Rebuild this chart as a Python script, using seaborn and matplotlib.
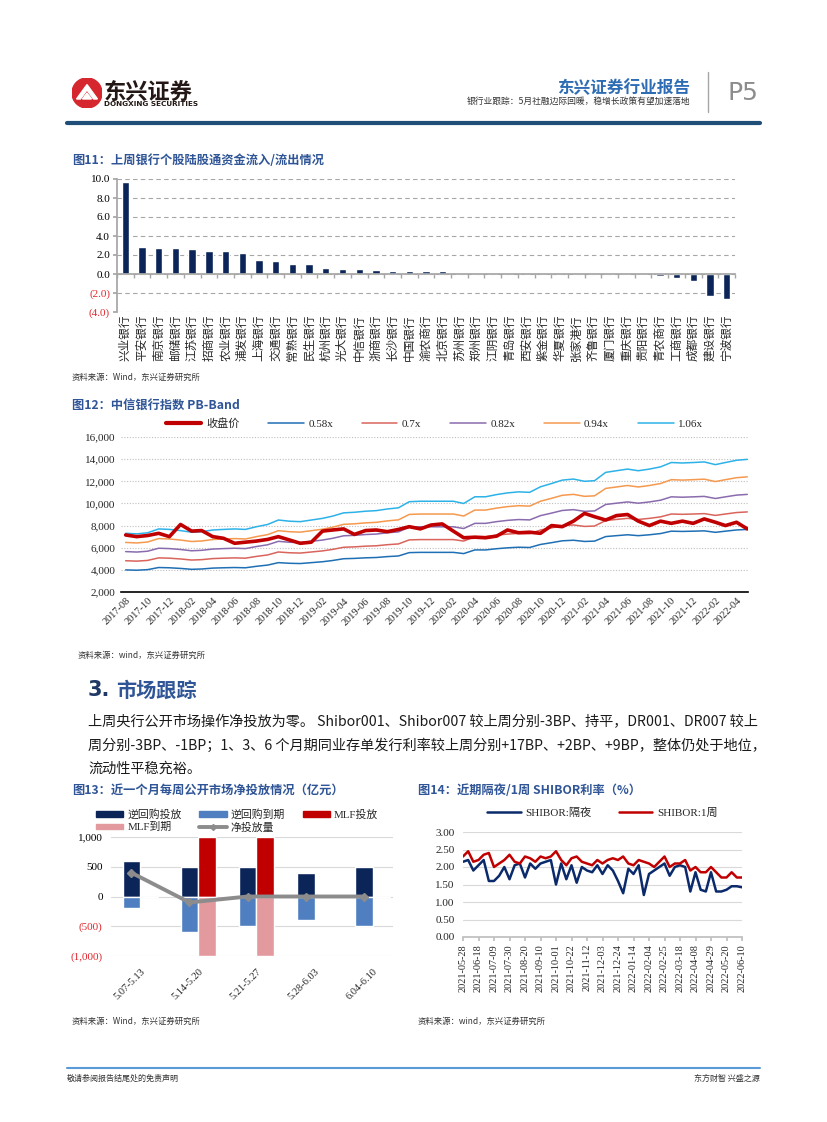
import numpy as np
import pandas as pd
import matplotlib
matplotlib.use("Agg")
import matplotlib.pyplot as plt
import matplotlib.dates as mdates
import matplotlib.ticker as mticker
from matplotlib.patches import Patch, Circle, Polygon
from matplotlib.lines import Line2D
import seaborn as sns

# ---- style ----
sns.set_theme(style="white")
plt.rcParams['font.family'] = ['Noto Sans CJK SC', 'DejaVu Sans']
plt.rcParams['axes.unicode_minus'] = False
SERIF = ['Liberation Serif', 'Noto Sans CJK SC']

W, H = 827, 1122
TITLE_BLUE = '#2F5597'

# ---- data: 图11 陆股通资金流入/流出 (亿元) ----
banks = ['兴业银行', '平安银行', '南京银行', '邮储银行', '江苏银行', '招商银行', '农业银行',
         '浦发银行', '上海银行', '交通银行', '常熟银行', '民生银行', '杭州银行', '光大银行',
         '中信银行', '浙商银行', '长沙银行', '中国银行', '渝农商行', '北京银行', '苏州银行',
         '郑州银行', '江阴银行', '青岛银行', '西安银行', '紫金银行', '华夏银行', '张家港行',
         '齐鲁银行', '厦门银行', '重庆银行', '贵阳银行', '青农商行', '工商银行', '成都银行',
         '建设银行', '宁波银行']
flows = [9.68, 2.85, 2.75, 2.75, 2.62, 2.43, 2.43, 2.18, 1.45, 1.35, 1.05, 1.05, 0.68, 0.57,
         0.57, 0.46, 0.36, 0.36, 0.35, 0.33, 0.12, 0.10, 0.10, 0.10, 0.0, 0.0, -0.03, -0.04,
         -0.04, -0.05, -0.06, -0.15, -0.17, -0.45, -0.75, -2.30, -2.62]

# ---- data: 图12 中信银行指数 PB-Band (monthly) ----
pb_months = pd.date_range('2017-08-01', periods=58, freq='MS')
close_px = [7150, 7000, 7100, 7300, 7000,
            8100, 7500, 7550, 7000, 6850, 6400, 6500, 6600, 6750, 7000, 6700, 6400,
            6500, 7500, 7600, 7700, 7200, 7550, 7600, 7450, 7650, 7900, 7700, 8050,
            8150, 7500, 6900, 6950, 6900, 7050, 7600, 7350, 7400, 7300, 8000, 7900,
            8400, 9100, 8800, 8500, 8900, 9000, 8400, 8000, 8400, 8200, 8400, 8200,
            8600, 8300, 8000, 8300, 7700]
book_value = [6890, 6840, 6930, 7260, 7220,
              7120, 6980, 7030, 7170, 7220, 7260, 7220, 7450, 7640, 8020, 7920, 7880,
              8020, 8160, 8350, 8630, 8680, 8770, 8820, 8960, 9060, 9580, 9620, 9620,
              9620, 9620, 9430, 10000, 10000, 10190, 10330, 10420, 10380, 10850, 11130, 11420,
              11510, 11320, 11370, 12080, 12220, 12360, 12220, 12360, 12550, 12920, 12880, 12920,
              12970, 12740, 12920, 13110, 13190]
pb_multiples = [0.58, 0.7, 0.82, 0.94, 1.06]
pb_names = ['0.58x', '0.7x', '0.82x', '0.94x', '1.06x']
pb_colors = ['#1F6FB4', '#D9645C', '#8A6BAE', '#F5994E', '#2DB2E8']

# ---- data: 图13 公开市场净投放 (亿元) ----
weeks = ['5.07-5.13', '5.14-5.20', '5.21-5.27', '5.28-6.03', '6.04-6.10']
repo_in = [600, 500, 500, 400, 500]
repo_out = [-200, -600, -500, -400, -500]
mlf_in = [0, 1000, 1000, 0, 0]
mlf_out = [0, -1000, -1000, 0, 0]
net_inj = [400, -100, 0, 0, 0]

# ---- data: 图14 SHIBOR (weekly, %) ----
shibor_dates = pd.date_range('2021-05-28', '2022-06-10', freq='W-FRI')
shibor_on = [2.15, 2.20, 1.90, 2.05, 2.20, 1.60, 1.60, 1.75, 2.00, 1.65, 2.05, 2.10, 1.70, 2.10,
             1.95, 2.10, 2.15, 2.20, 1.50, 2.10, 1.65, 2.05, 1.55, 2.00, 1.90, 1.85, 2.05, 1.80,
             2.05, 1.90, 1.60, 1.25, 1.95, 1.80, 2.05, 1.20, 1.80, 1.90, 2.00, 2.10, 1.75, 2.00,
             2.05, 2.00, 1.30, 1.85, 1.35, 1.30, 1.85, 1.30, 1.30, 1.35, 1.45, 1.45, 1.42]
shibor_1w = [2.30, 2.45, 2.15, 2.20, 2.35, 2.40, 2.00, 2.10, 2.20, 2.35, 2.15, 2.10, 2.30, 2.25,
             2.15, 2.30, 2.25, 2.30, 2.45, 2.20, 2.05, 2.25, 2.30, 2.15, 2.10, 2.05, 2.20, 2.10,
             2.20, 2.25, 2.20, 2.30, 2.10, 2.05, 2.20, 2.15, 2.10, 2.00, 2.15, 2.30, 2.00, 2.10,
             2.10, 2.20, 1.90, 2.00, 1.85, 1.85, 2.00, 1.85, 1.70, 1.70, 1.85, 1.70, 1.70]
shibor_ticks = pd.date_range('2021-05-28', '2022-06-10', freq='21D')


def box(x0, y0, x1, y1):
    return [x0 / W, 1 - y1 / H, (x1 - x0) / W, (y1 - y0) / H]


fig = plt.figure(figsize=(W / 100, H / 100), dpi=100)


def ftext(x, y, s, **kw):
    fig.text(x / W, 1 - y / H, s, **kw)


def neg_fmt(v, fmt):
    s = format(abs(v), fmt)
    return f'({s})' if v < 0 else s


# ================= header =================
axl = fig.add_axes(box(72, 78, 102, 108))
axl.set_xlim(0, 1)
axl.set_ylim(0, 1)
axl.set_aspect('equal')
axl.axis('off')
axl.add_patch(Circle((0.5, 0.5), 0.5, color='#D6262E'))
axl.add_patch(Polygon([[0.15, 0.3], [0.5, 0.78], [0.85, 0.3], [0.72, 0.3], [0.5, 0.6], [0.28, 0.3]],
                      color='white'))
axl.add_patch(Polygon([[0.35, 0.3], [0.5, 0.5], [0.65, 0.3]], color='white'))
ftext(104, 92, '东兴证券', fontsize=16, fontweight='bold', color='#231815', va='center')
ftext(104, 104.5, 'DONGXING SECURITIES', fontsize=5.2, fontweight='bold', color='#231815',
      va='center', family=['DejaVu Sans'])
ftext(690, 88, '东兴证券行业报告', fontsize=12, fontweight='bold', color='#2E6DB4',
      ha='right', va='center')
ftext(690, 101.5, '银行业跟踪：5月社融边际回暖，稳增长政策有望加速落地', fontsize=6.3,
      color='#333333', ha='right', va='center')
fig.add_artist(Line2D([708 / W, 708 / W], [1 - 72 / H, 1 - 112 / H], color='#A6A6A6', lw=1))
ftext(728, 93, 'P5', fontsize=18, color='#8C8C8C', va='center', family=['DejaVu Sans'])
fig.add_artist(Line2D([67 / W, 760 / W], [1 - 123 / H, 1 - 123 / H], color='#1F4E79', lw=3))

# ================= 图11 =================
ftext(72, 160, '图11：上周银行个股陆股通资金流入/流出情况', fontsize=8.8, fontweight='bold',
      color=TITLE_BLUE, va='center')
ax1 = fig.add_axes(box(117, 179, 735, 312))
sns.barplot(x=banks, y=flows, color='#0B2559', width=0.44, saturation=1, ax=ax1)
ax1.set_xlim(-0.5, len(banks) - 0.5)
ax1.set_ylim(-4, 10)
ax1.set_yticks(np.arange(-4, 11, 2))
ax1.set_yticklabels([neg_fmt(v, '.1f') for v in np.arange(-4, 11, 2)], family=SERIF, fontsize=8)
for lab, v in zip(ax1.get_yticklabels(), np.arange(-4, 11, 2)):
    lab.set_color('#E0282E' if v < 0 else 'black')
ax1.yaxis.grid(True, linestyle=(0, (4, 3)), color='#A6A6A6', lw=0.8)
ax1.set_axisbelow(True)
for s in ['top', 'right']:
    ax1.spines[s].set_visible(False)
ax1.spines['left'].set_color('#A6A6A6')
ax1.spines['bottom'].set_position(('data', 0))
ax1.spines['bottom'].set_color('#A6A6A6')
ax1.set_xticks(range(len(banks)))
ax1.set_xticklabels(banks, rotation=90, fontsize=8.4, va='top')
ax1.tick_params(axis='x', which='major', length=0, pad=29)
ax1.set_xticks(np.arange(-0.5, len(banks), 1), minor=True)
ax1.tick_params(axis='x', which='minor', length=3, color='#A6A6A6', bottom=True)
ax1.tick_params(axis='y', length=3, color='#A6A6A6', left=True, pad=2)
ax1.set_xlabel('')
ax1.set_ylabel('')
ftext(72, 377, '资料来源：Wind，东兴证券研究所', fontsize=6, color='#333333', va='center',
      style='italic')

# ================= 图12 =================
ftext(72, 405, '图12：中信银行指数 PB-Band', fontsize=8.8, fontweight='bold', color=TITLE_BLUE,
      va='center')
ax2 = fig.add_axes(box(121, 437, 748, 592))
handles = []
sns.lineplot(x=pb_months, y=close_px, color='#C00000', lw=2.6, ax=ax2)
handles.append(Line2D([], [], color='#C00000', lw=3))
for m, name, c in zip(pb_multiples, pb_names, pb_colors):
    band = [m * b for b in book_value]
    sns.lineplot(x=pb_months, y=band, color=c, lw=1.1, ax=ax2)
    handles.append(Line2D([], [], color=c, lw=1.1))
ax2.lines[0].set_zorder(5)
ax2.set_ylim(2000, 16000)
ax2.set_xlim(pd.Timestamp('2017-07-19'), pd.Timestamp('2022-05-03'))
ax2.set_yticks(np.arange(2000, 16001, 2000))
ax2.set_yticklabels([f'{v:,}' for v in np.arange(2000, 16001, 2000)], family=SERIF, fontsize=8)
ax2.yaxis.grid(True, linestyle=(0, (1, 1.5)), color='#BFBFBF', lw=0.8)
xt = pd.date_range('2017-08-01', '2022-04-01', freq='2MS')
ax2.set_xticks(xt)
ax2.set_xticklabels([d.strftime('%Y-%m') for d in xt], rotation=45, ha='right',
                    rotation_mode='anchor', family=SERIF, fontsize=7.5)
ax2.tick_params(axis='x', length=0, pad=3)
ax2.tick_params(axis='y', length=0, pad=4)
for s in ['top', 'right', 'left']:
    ax2.spines[s].set_visible(False)
ax2.spines['bottom'].set_color('black')
ax2.spines['bottom'].set_linewidth(1.2)
ax2.set_xlabel('')
ax2.set_ylabel('')
ax2.legend(handles, ['收盘价'] + pb_names, loc='lower center', bbox_to_anchor=(0.5, 1.0),
           ncol=6, frameon=False, prop={'family': SERIF, 'size': 8}, handlelength=3.2,
           columnspacing=2.6, handletextpad=0.4, borderaxespad=0.3)
ftext(78, 655, '资料来源：wind，东兴证券研究所', fontsize=6, color='#333333', va='center')

# ================= section text =================
ftext(88, 690, '3.', fontsize=15, fontweight='bold', color='#1F3864', va='center',
      family=['DejaVu Sans'])
ftext(116, 690, '市场跟踪', fontsize=14.5, fontweight='bold', color='#2F5597', va='center')
body = ['上周央行公开市场操作净投放为零。 Shibor001、Shibor007 较上周分别-3BP、持平，DR001、DR007 较上',
        '周分别-3BP、-1BP；1、3、6 个月期同业存单发行利率较上周分别+17BP、+2BP、+9BP，整体仍处于地位，',
        '流动性平稳充裕。']
for i, line in enumerate(body):
    ftext(88, 722 + i * 23.5, line, fontsize=10.2, color='#1A1A1A', va='center')

# ================= 图13 =================
ftext(72, 790, '图13：近一个月每周公开市场净投放情况（亿元）', fontsize=8.8, fontweight='bold',
      color=TITLE_BLUE, va='center')
ax3 = fig.add_axes(box(111, 837, 393, 956))
c_navy, c_lblue, c_red, c_pink, c_gray = '#0B2559', '#4F7FC0', '#C00000', '#E39A9E', '#8C8C8C'
pos = pd.DataFrame({'week': weeks * 2, 'kind': ['逆回购'] * 5 + ['MLF'] * 5,
                    'value': repo_in + mlf_in})
neg = pd.DataFrame({'week': weeks * 2, 'kind': ['逆回购'] * 5 + ['MLF'] * 5,
                    'value': repo_out + mlf_out})
sns.barplot(data=pos, x='week', y='value', hue='kind', palette=[c_navy, c_red], width=0.6,
            saturation=1, dodge=True, legend=False, ax=ax3)
sns.barplot(data=neg, x='week', y='value', hue='kind', palette=[c_lblue, c_pink], width=0.6,
            saturation=1, dodge=True, legend=False, ax=ax3)
ax3.plot(np.arange(len(weeks)) - 0.15, net_inj, color=c_gray, lw=2.8, marker='D', ms=4,
         zorder=5)
ax3.set_xlim(-0.5, 4.35)
ax3.set_ylim(-1000, 1000)
yt3 = [-1000, -500, 0, 500, 1000]
ax3.set_yticks(yt3)
ax3.set_yticklabels([neg_fmt(v, ',') for v in yt3], family=SERIF, fontsize=8)
for lab, v in zip(ax3.get_yticklabels(), yt3):
    lab.set_color('#E0282E' if v < 0 else 'black')
ax3.yaxis.grid(True, color='#D9D9D9', lw=0.8)
ax3.set_axisbelow(True)
for s in ['top', 'right', 'left', 'bottom']:
    ax3.spines[s].set_visible(False)
ax3.set_xticks(range(len(weeks)))
ax3.set_xticklabels(weeks, rotation=45, ha='right', rotation_mode='anchor', family=SERIF,
                    fontsize=7.5)
ax3.tick_params(axis='x', length=0, pad=8)
ax3.tick_params(axis='y', length=0, pad=6)
ax3.set_xlabel('')
ax3.set_ylabel('')
h3 = [Patch(color=c_navy), Patch(color=c_pink), Patch(color=c_lblue),
      Line2D([], [], color=c_gray, lw=2.8, marker='D', ms=3), Patch(color=c_red)]
l3 = ['逆回购投放', 'MLF到期', '逆回购到期', '净投放量', 'MLF投放']
ax3.legend(h3, l3, ncol=3, loc='upper left', bbox_to_anchor=(92 / W, 1 - 805 / H),
           bbox_transform=fig.transFigure, frameon=False, prop={'family': SERIF, 'size': 7.8},
           handlelength=2.5, handleheight=0.45, handletextpad=0.4, columnspacing=1.6,
           labelspacing=0.2, borderaxespad=0)
ftext(72, 1021, '资料来源：Wind，东兴证券研究所', fontsize=6, color='#333333', va='center')

# ================= 图14 =================
ftext(418, 790, '图14：近期隔夜/1周 SHIBOR利率（%）', fontsize=8.8, fontweight='bold',
      color=TITLE_BLUE, va='center')
ax4 = fig.add_axes(box(463, 832, 742, 937))
sns.lineplot(x=shibor_dates, y=shibor_on, color='#0B2A6B', lw=1.8, ax=ax4, label='SHIBOR:隔夜')
sns.lineplot(x=shibor_dates, y=shibor_1w, color='#C00000', lw=1.8, ax=ax4, label='SHIBOR:1周')
ax4.set_xlim(shibor_ticks[0], shibor_ticks[-1])
ax4.set_ylim(0, 3)
ax4.set_yticks(np.arange(0, 3.01, 0.5))
ax4.set_yticklabels([f'{v:.2f}' for v in np.arange(0, 3.01, 0.5)], family=SERIF, fontsize=8)
ax4.yaxis.grid(True, color='#D9D9D9', lw=0.8)
ax4.set_axisbelow(True)
for s in ['top', 'right', 'left']:
    ax4.spines[s].set_visible(False)
ax4.spines['bottom'].set_color('#BFBFBF')
ax4.set_xticks(shibor_ticks)
ax4.set_xticklabels([d.strftime('%Y-%m-%d') for d in shibor_ticks], rotation=90,
                    family=SERIF, fontsize=7.4)
ax4.tick_params(axis='x', length=3, color='#BFBFBF', bottom=True, pad=2)
ax4.tick_params(axis='y', length=0, pad=6)
ax4.set_xlabel('')
ax4.set_ylabel('')
ax4.legend(loc='lower center', bbox_to_anchor=(0.5, 1.04), ncol=2, frameon=False,
           prop={'family': SERIF, 'size': 8}, handlelength=3, columnspacing=2.5,
           handletextpad=0.4)
ftext(418, 1021, '资料来源：wind，东兴证券研究所', fontsize=6, color='#333333', va='center')

# ================= footer =================
fig.add_artist(Line2D([67 / W, 760 / W], [1 - 1068 / H, 1 - 1068 / H], color='#5B9BD5', lw=1.5))
ftext(67, 1078, '敬请参阅报告结尾处的免责声明', fontsize=5.8, color='#333333', va='center')
ftext(760, 1078, '东方财智 兴盛之源', fontsize=5.8, color='#333333', va='center', ha='right')

fig.savefig('out.png', dpi=100)
